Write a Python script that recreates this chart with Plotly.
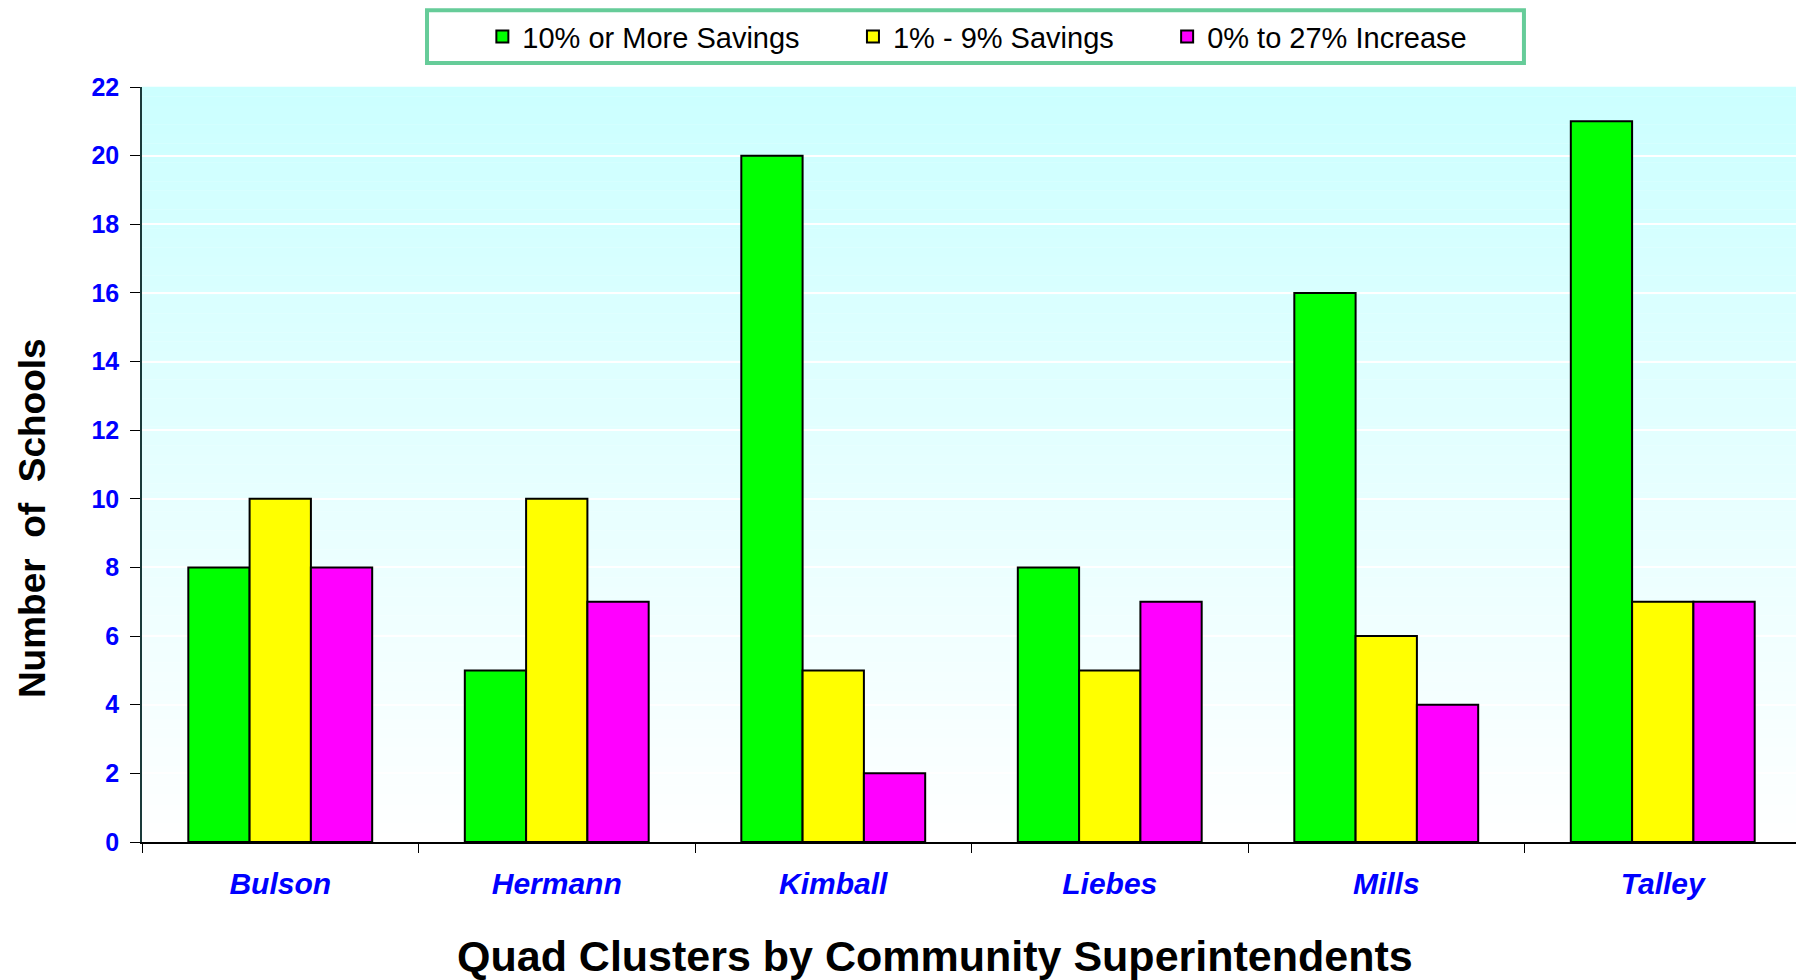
import plotly.graph_objects as go

# data
clusters = ['Bulson', 'Hermann', 'Kimball', 'Liebes', 'Mills', 'Talley']
savings_10_plus = [8, 5, 20, 8, 16, 21]
savings_1_9 = [10, 10, 5, 5, 6, 7]
increase_0_27 = [8, 7, 2, 7, 4, 7]

series_names = ['10% or More Savings', '1% - 9% Savings', '0% to 27% Increase']
series_colors = ['#00FF00', '#FFFF00', '#FF00FF']

FONT = 'Liberation Sans, Arial, sans-serif'
PAD = '\u00a0' * 6  # spacing between legend entries

fig = go.Figure()
for name, vals, color in zip(series_names, [savings_10_plus, savings_1_9, increase_0_27], series_colors):
    fig.add_trace(go.Bar(
        x=clusters,
        y=vals,
        name=name + PAD,
        marker=dict(color=color, line=dict(color='black', width=2)),
    ))

# vertical gradient background (light cyan at top fading to white)
n_bands = 80
top = (204, 255, 255)
for i in range(n_bands):
    t = i / (n_bands - 1)  # 0 at bottom, 1 at top
    r = int(255 + (top[0] - 255) * t)
    g = int(255 + (top[1] - 255) * t)
    b = int(255 + (top[2] - 255) * t)
    fig.add_shape(
        type='rect', xref='x domain', yref='y domain',
        x0=0, x1=1, y0=i / n_bands, y1=(i + 1.02) / n_bands,
        fillcolor=f'rgb({r},{g},{b})', line=dict(width=0), layer='below',
    )

# legend frame
fig.add_shape(
    type='rect', xref='paper', yref='paper',
    x0=0.1718, x1=0.833, y0=1.0318, y1=1.1015,
    line=dict(color='#66CC99', width=4), fillcolor='white', layer='below',
)

# axis titles placed as annotations so the plot area stays fixed
fig.add_annotation(
    text='Number  of  Schools', xref='paper', yref='paper',
    x=-0.0663, y=0.429, textangle=-90, showarrow=False,
    xanchor='center', yanchor='middle',
    font=dict(size=37, color='black', family=FONT, weight='bold'),
)
fig.add_annotation(
    text='Quad Clusters by Community Superintendents', xref='paper', yref='paper',
    x=0.478, y=-0.151, showarrow=False,
    xanchor='center', yanchor='middle',
    font=dict(size=43, color='black', family=FONT, weight='bold'),
)

# page body keeps an 8px margin, so the figure is sized to fit inside the window
fig.update_layout(
    width=1796,
    height=972,
    barmode='group',
    bargap=0.335,
    bargroupgap=0,
    paper_bgcolor='white',
    plot_bgcolor='white',
    margin=dict(l=134, r=3, t=79, b=138, autoexpand=False),
    font=dict(family=FONT, color='black'),
    showlegend=True,
    legend=dict(
        orientation='h',
        x=0.518, xanchor='center',
        y=1.0667, yanchor='middle',
        font=dict(size=29, color='black', family=FONT),
        bgcolor='rgba(0,0,0,0)',
        borderwidth=0,
    ),
    xaxis=dict(
        automargin=False,
        showline=True,
        linecolor='black',
        linewidth=1.5,
        ticks='outside',
        tickson='boundaries',
        ticklen=9,
        tickcolor='black',
        ticklabelstandoff=14,
        showgrid=False,
        tickfont=dict(size=30, color='#0000FF', family=FONT, weight='bold', style='italic'),
    ),
    yaxis=dict(
        automargin=False,
        range=[0, 22],
        dtick=2,
        showline=True,
        linecolor='#1a3a3a',
        linewidth=1.5,
        ticks='outside',
        ticklen=10,
        tickcolor='black',
        ticklabelstandoff=6,
        showgrid=True,
        gridcolor='white',
        gridwidth=1.5,
        zeroline=False,
        tickfont=dict(size=25, color='#0000FF', family=FONT, weight='bold'),
    ),
)

fig.write_html('out.html')
